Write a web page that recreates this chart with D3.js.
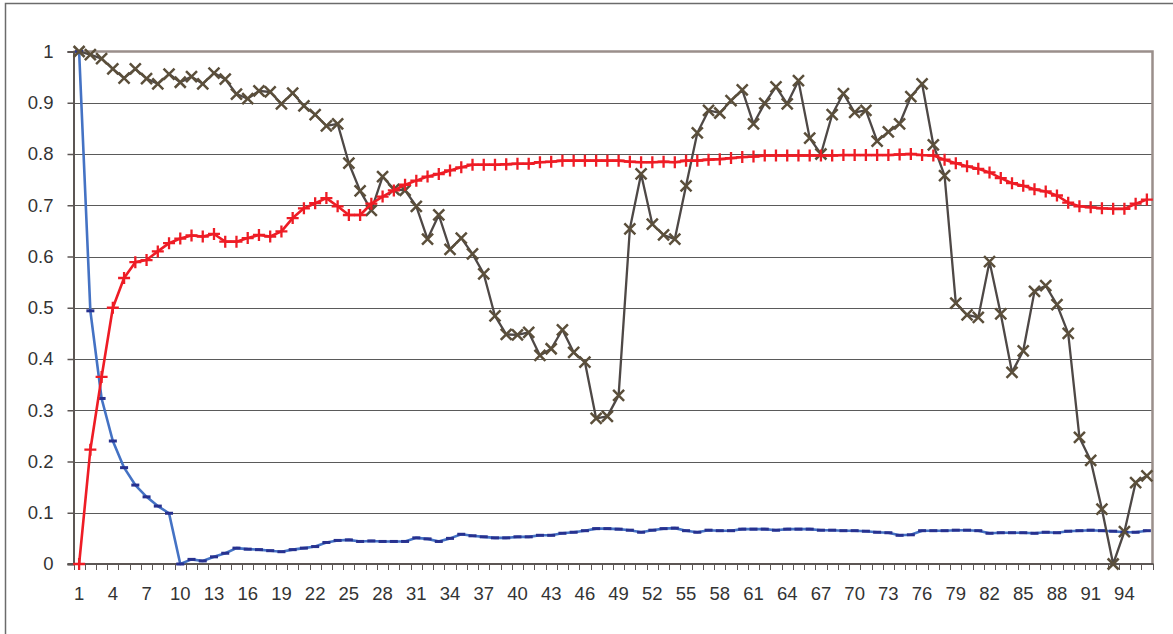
<!DOCTYPE html>
<html>
<head>
<meta charset="utf-8">
<script src="https://cdn.jsdelivr.net/npm/d3@7"></script>
<style>
  html, body { margin: 0; padding: 0; background: #fff; }
  svg { display: block; }
  text { font-family: "Liberation Sans", Arial, sans-serif; }
</style>
</head>
<body>
<svg id="chart" width="1173" height="634"></svg>
<script>
// Category index 1..96
const categories = d3.range(1, 97);

// Series A: dark line with "x" markers
const seriesCross = [
  1.000, 0.994, 0.986, 0.966, 0.948, 0.966, 0.947, 0.937, 0.956, 0.940,
  0.951, 0.937, 0.958, 0.946, 0.917, 0.908, 0.923, 0.921, 0.898, 0.919,
  0.894, 0.877, 0.855, 0.859, 0.782, 0.728, 0.690, 0.756, 0.731, 0.729,
  0.698, 0.634, 0.681, 0.614, 0.636, 0.605, 0.566, 0.484, 0.448, 0.447,
  0.452, 0.407, 0.420, 0.457, 0.413, 0.394, 0.284, 0.288, 0.329, 0.654,
  0.761, 0.663, 0.642, 0.634, 0.738, 0.841, 0.885, 0.880, 0.904, 0.925,
  0.859, 0.899, 0.931, 0.898, 0.943, 0.831, 0.800, 0.877, 0.918, 0.881,
  0.885, 0.825, 0.843, 0.859, 0.912, 0.937, 0.818, 0.758, 0.509, 0.486,
  0.481, 0.590, 0.488, 0.374, 0.416, 0.532, 0.543, 0.506, 0.450, 0.247,
  0.202, 0.107, 0.000, 0.063, 0.159, 0.172
];

// Series B: red line with "+" markers
const seriesPlus = [
  0.000, 0.223, 0.365, 0.500, 0.558, 0.589, 0.593, 0.610, 0.626, 0.635,
  0.641, 0.639, 0.644, 0.629, 0.629, 0.636, 0.642, 0.639, 0.649, 0.675,
  0.694, 0.704, 0.714, 0.698, 0.681, 0.681, 0.703, 0.717, 0.729, 0.740,
  0.748, 0.756, 0.761, 0.768, 0.774, 0.779, 0.779, 0.779, 0.780, 0.781,
  0.781, 0.784, 0.785, 0.787, 0.787, 0.787, 0.787, 0.787, 0.787, 0.785,
  0.784, 0.784, 0.785, 0.784, 0.787, 0.787, 0.789, 0.790, 0.792, 0.794,
  0.795, 0.797, 0.797, 0.797, 0.797, 0.797, 0.797, 0.797, 0.798, 0.798,
  0.798, 0.798, 0.798, 0.799, 0.800, 0.798, 0.797, 0.789, 0.782, 0.776,
  0.771, 0.764, 0.753, 0.743, 0.738, 0.731, 0.727, 0.719, 0.705, 0.698,
  0.696, 0.694, 0.693, 0.693, 0.703, 0.711
];

// Series C: blue line with dash markers
const seriesDash = [
  1.000, 0.494, 0.323, 0.240, 0.188, 0.154, 0.131, 0.113, 0.099, 0.000,
  0.009, 0.006, 0.014, 0.021, 0.031, 0.029, 0.028, 0.026, 0.024, 0.028,
  0.031, 0.034, 0.042, 0.046, 0.047, 0.044, 0.045, 0.044, 0.044, 0.044,
  0.051, 0.049, 0.044, 0.050, 0.058, 0.055, 0.053, 0.051, 0.051, 0.053,
  0.053, 0.056, 0.056, 0.060, 0.062, 0.065, 0.069, 0.069, 0.068, 0.066,
  0.062, 0.066, 0.069, 0.070, 0.065, 0.062, 0.066, 0.065, 0.065, 0.068,
  0.068, 0.068, 0.066, 0.068, 0.068, 0.068, 0.066, 0.066, 0.065, 0.065,
  0.064, 0.062, 0.061, 0.056, 0.057, 0.065, 0.065, 0.065, 0.066, 0.066,
  0.065, 0.060, 0.061, 0.061, 0.061, 0.060, 0.062, 0.061, 0.064, 0.065,
  0.066, 0.065, 0.064, 0.062, 0.062, 0.065
];

// Axis ticks
const yTicks = [0, 0.1, 0.2, 0.3, 0.4, 0.5, 0.6, 0.7, 0.8, 0.9, 1];
const yTickLabels = ["0", "0.1", "0.2", "0.3", "0.4", "0.5", "0.6", "0.7", "0.8", "0.9", "1"];
const xLabelStep = 3;

const svg = d3.select("#chart");
const plot = { left: 73.5, right: 1152.5, top: 51.5, bottom: 564 };

const x = d3.scaleBand().domain(categories).range([plot.left, plot.right]).padding(0);
const cx = d => x(d) + x.bandwidth() / 2;
const y = d3.scaleLinear().domain([0, 1]).range([plot.bottom, plot.top]);

// Outer chart frame
svg.append("rect")
  .attr("x", 5.5).attr("y", 3.5)
  .attr("width", 1200).attr("height", 700)
  .attr("fill", "#fff").attr("stroke", "#6b6b6b").attr("stroke-width", 1.5);

// Horizontal gridlines
svg.append("g")
  .selectAll("line")
  .data(yTicks.filter(v => v > 0 && v < 1))
  .join("line")
  .attr("x1", plot.left).attr("x2", plot.right)
  .attr("y1", d => Math.round(y(d)) + 0.5).attr("y2", d => Math.round(y(d)) + 0.5)
  .attr("stroke", "#5a5a5a").attr("stroke-width", 1);

// Plot area border (top and right)
svg.append("path")
  .attr("d", `M${plot.left},${plot.top} H${plot.right} V${plot.bottom}`)
  .attr("fill", "none").attr("stroke", "#9a8f8b").attr("stroke-width", 2.5);

// Y axis
const yAxis = d3.axisLeft(y)
  .tickValues(yTicks)
  .tickSize(6)
  .tickPadding(14)
  .tickFormat((d, i) => yTickLabels[i]);
const gy = svg.append("g").attr("transform", `translate(${plot.left},0)`).call(yAxis);
gy.select(".domain").attr("stroke", "#5c5654").attr("stroke-width", 2);
gy.selectAll(".tick line").attr("stroke", "#5c5654").attr("stroke-width", 1.5);
gy.selectAll(".tick text")
  .attr("font-size", 18.5).attr("fill", "#333")
  .attr("font-family", "'Liberation Sans', Arial, sans-serif");

// X axis: tick marks at category boundaries, labels every third category
const boundaries = categories.map(d => x(d)).concat([plot.right]);
const gx = svg.append("g");
gx.selectAll("line.tk")
  .data(boundaries)
  .join("line")
  .attr("class", "tk")
  .attr("x1", d => Math.round(d) + 0.5).attr("x2", d => Math.round(d) + 0.5)
  .attr("y1", plot.bottom).attr("y2", plot.bottom + 6)
  .attr("stroke", "#5c5654").attr("stroke-width", 1);
gx.append("line")
  .attr("x1", plot.left - 6).attr("x2", plot.right + 1)
  .attr("y1", plot.bottom).attr("y2", plot.bottom)
  .attr("stroke", "#5c5654").attr("stroke-width", 2);
gx.selectAll("text")
  .data(categories.filter((d, i) => i % xLabelStep === 0))
  .join("text")
  .attr("x", d => cx(d))
  .attr("y", 600)
  .attr("text-anchor", "middle")
  .attr("font-size", 18.5)
  .attr("fill", "#333")
  .text(d => d);

// Series drawing
const series = [
  { values: seriesDash, line: "#4472c4", lw: 2.6, marker: "dash", mc: "#27318f" },
  { values: seriesCross, line: "#4e4846", lw: 2.3, marker: "cross", mc: "#5b4f3b" },
  { values: seriesPlus, line: "#ee1c25", lw: 2.6, marker: "plus", mc: "#ee1c25" }
];

const line = d3.line().x((v, i) => cx(categories[i])).y(v => y(v));

series.forEach(s => {
  const g = svg.append("g");
  g.append("path")
    .datum(s.values)
    .attr("d", line)
    .attr("fill", "none")
    .attr("stroke", s.line)
    .attr("stroke-width", s.lw)
    .attr("stroke-linejoin", "round");

  const pts = g.selectAll("g.pt")
    .data(s.values)
    .join("g")
    .attr("transform", (v, i) => `translate(${cx(categories[i])},${y(v)})`);

  if (s.marker === "cross") {
    pts.append("path")
      .attr("d", "M-5.5,-5.5L5.5,5.5M-5.5,5.5L5.5,-5.5")
      .attr("stroke", s.mc).attr("stroke-width", 2.5).attr("fill", "none");
  } else if (s.marker === "plus") {
    pts.append("path")
      .attr("d", "M-6,0H6M0,-6V6")
      .attr("stroke", s.mc).attr("stroke-width", 2.3).attr("fill", "none");
  } else {
    pts.append("rect")
      .attr("x", -4).attr("y", -1.5).attr("width", 8).attr("height", 3)
      .attr("fill", s.mc);
  }
});
</script>
</body>
</html>
